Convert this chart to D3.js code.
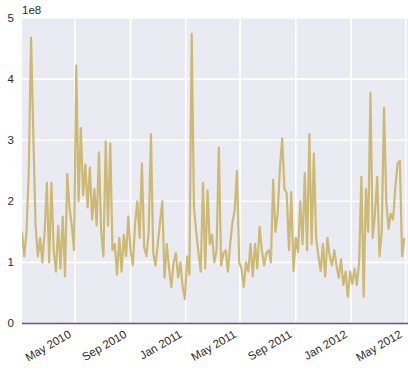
<!DOCTYPE html>
<html lang="en">
<head>
<meta charset="utf-8">
<script src="https://d3js.org/d3.v7.min.js"></script>
<style>
body { margin: 0; background: #fff; }
text { font-family: "Liberation Sans", Arial, sans-serif; font-size: 11.5px; fill: #2b2b2b; }
</style>
</head>
<body>
<svg width="408" height="385"></svg>
<script>

// samples every 5 days, starting 2010-01-04 (values in units of 1e8)
var startDate = "2010-01-04";
var stepDays = 5;
var values = [
  1.5, 1.1, 1.5, 2.5, 4.68, 3.1, 1.6, 1.1, 1.4, 1.0,
  1.5, 2.3, 1.0, 2.3, 1.2, 0.85, 1.6, 0.9, 1.75, 0.77,
  2.45, 1.9, 1.6, 1.2, 4.22, 2.0, 3.2, 2.1, 2.6, 1.9,
  2.55, 1.7, 2.2, 1.6, 2.8, 1.5, 1.1, 2.98, 1.6, 2.95,
  1.2, 1.3, 0.8, 1.4, 0.85, 1.45, 1.1, 1.75, 1.2, 0.95,
  1.65, 2.0, 1.4, 2.62, 1.25, 1.1, 1.5, 3.1, 1.15, 0.95,
  1.3, 1.65, 2.0, 0.75, 1.3, 0.9, 0.6, 1.0, 1.15, 0.75,
  1.0, 0.6, 0.4, 1.1, 0.8, 4.74, 1.9, 1.5, 1.15, 0.85,
  2.3, 0.9, 2.18, 1.3, 1.45, 1.0, 1.2, 2.88, 0.95, 1.15,
  1.2, 0.85, 1.3, 1.65, 1.86, 2.5, 1.0, 0.9, 0.6, 1.0,
  0.85, 1.3, 0.77, 1.3, 0.9, 1.58, 1.2, 0.95, 1.15, 1.2,
  1.0, 2.35, 1.5, 1.8, 2.55, 3.03, 2.2, 2.13, 1.2, 2.15,
  0.86, 1.4, 1.17, 2.0, 1.3, 2.46, 1.2, 3.1, 1.3, 2.78,
  1.4, 1.1, 0.86, 1.3, 0.77, 1.4, 1.1, 0.95, 1.2, 0.95,
  0.75, 1.05, 0.63, 0.85, 0.44, 0.85, 0.65, 0.9, 0.63, 1.0,
  2.4, 0.44, 2.2, 1.5, 3.78, 1.4, 1.8, 2.4, 1.1, 1.5,
  3.53, 2.0, 1.55, 1.8, 1.7, 2.23, 2.62, 2.66, 1.1, 1.4
];
var yTicks = [0, 1, 2, 3, 4, 5];
var xDomain = ["2010-01-04", "2012-05-06"];

var parse = d3.timeParse("%Y-%m-%d");
var t0 = parse(startDate);
var data = values.map(function(v, i) {
  return { date: d3.timeDay.offset(t0, i * stepDays), value: v * 1e8 };
});

var svg = d3.select("svg"),
    mLeft = 22, mRight = 408, mTop = 18, mBottom = 323.5;

var x = d3.scaleTime().domain(xDomain.map(parse)).range([mLeft, mRight]);
var y = d3.scaleLinear().domain([0, 5e8]).range([mBottom, mTop]);

svg.append("rect")
    .attr("x", mLeft).attr("y", mTop)
    .attr("width", mRight - mLeft).attr("height", mBottom - mTop)
    .attr("fill", "#eaeaf2");

svg.append("clipPath").attr("id", "clip")
  .append("rect")
    .attr("x", mLeft).attr("y", mTop)
    .attr("width", mRight - mLeft).attr("height", mBottom - mTop);

var xt = x.ticks(d3.timeMonth.every(4));

// grid
svg.append("g").selectAll("line").data(xt).join("line")
    .attr("x1", function(d) { return x(d); }).attr("x2", function(d) { return x(d); })
    .attr("y1", mTop).attr("y2", mBottom)
    .attr("stroke", "#fff").attr("stroke-width", 1.6);
svg.append("g").selectAll("line").data(yTicks).join("line")
    .attr("x1", mLeft).attr("x2", mRight)
    .attr("y1", function(d) { return y(d * 1e8); }).attr("y2", function(d) { return y(d * 1e8); })
    .attr("stroke", "#fff").attr("stroke-width", 1.6);

// line
var line = d3.line()
    .x(function(d) { return x(d.date); })
    .y(function(d) { return y(d.value); });

svg.append("path")
    .datum(data)
    .attr("clip-path", "url(#clip)")
    .attr("fill", "none")
    .attr("stroke", "#ccb974")
    .attr("stroke-width", 2.2)
    .attr("stroke-linejoin", "round")
    .attr("d", line);

// zero line at the bottom
svg.append("line")
    .attr("x1", mLeft).attr("x2", mRight)
    .attr("y1", y(0)).attr("y2", y(0))
    .attr("stroke", "#5a5a70").attr("stroke-width", 1.5);

// y labels
svg.append("g").selectAll("text").data(yTicks).join("text")
    .attr("x", 14)
    .attr("y", function(d) { return y(d * 1e8); })
    .attr("dy", "0.32em")
    .attr("text-anchor", "end")
    .text(function(d) { return d; });

svg.append("text").attr("x", 22).attr("y", 14).text("1e8");

// x labels, rotated
var fmt = d3.timeFormat("%b %Y");
svg.append("g").selectAll("text").data(xt).join("text")
    .attr("text-anchor", "end")
    .attr("transform", function(d) {
      return "translate(" + (x(d) - 3) + "," + (mBottom + 13) + ") rotate(-30)";
    })
    .text(function(d) { return fmt(d); });

</script>
</body>
</html>
